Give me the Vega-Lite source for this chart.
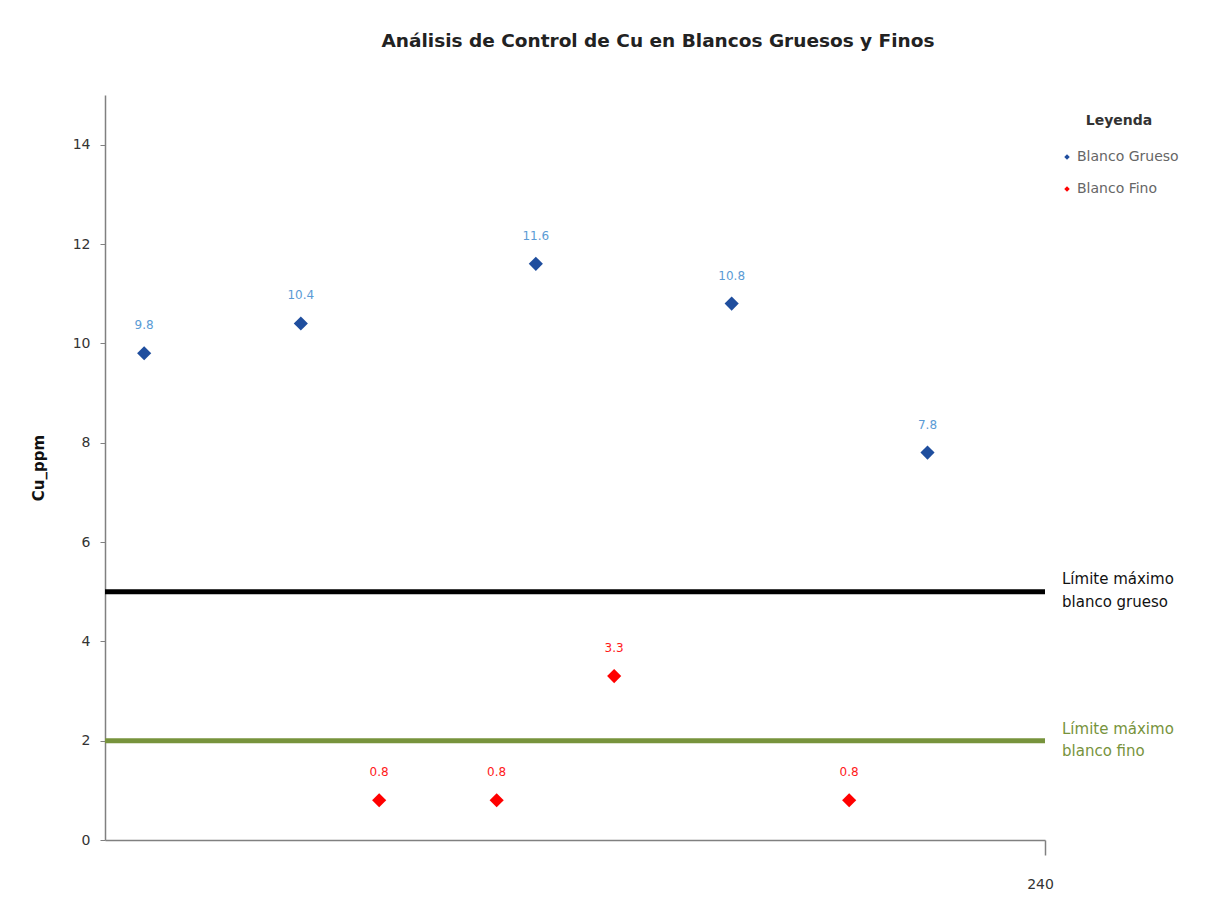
{
  "$schema": "https://vega.github.io/schema/vega-lite/v6.json",
  "width": 940,
  "height": 745,
  "autosize": {"type": "none"},
  "padding": {"left": 105, "top": 95, "right": 160, "bottom": 61},
  "background": "white",
  "config": {"view": {"stroke": null}, "font": "DejaVu Sans"},
  "title": {
    "text": "Análisis de Control de Cu en Blancos Gruesos y Finos",
    "fontSize": 18.5,
    "fontWeight": "bold",
    "color": "#222222",
    "anchor": "middle",
    "dx": 83,
    "offset": 30,
    "baseline": "alphabetic"
  },
  "datasets": {
    "puntos": [
      {"muestra": 10, "cu": 9.8, "tipo": "Blanco Grueso"},
      {"muestra": 50, "cu": 10.4, "tipo": "Blanco Grueso"},
      {"muestra": 110, "cu": 11.6, "tipo": "Blanco Grueso"},
      {"muestra": 160, "cu": 10.8, "tipo": "Blanco Grueso"},
      {"muestra": 210, "cu": 7.8, "tipo": "Blanco Grueso"},
      {"muestra": 70, "cu": 0.8, "tipo": "Blanco Fino"},
      {"muestra": 100, "cu": 0.8, "tipo": "Blanco Fino"},
      {"muestra": 130, "cu": 3.3, "tipo": "Blanco Fino"},
      {"muestra": 190, "cu": 0.8, "tipo": "Blanco Fino"}
    ],
    "limites": [
      {"limite": "grueso", "valor": 5, "etiqueta": "Límite máximo\nblanco grueso"},
      {"limite": "fino", "valor": 2, "etiqueta": "Límite máximo\nblanco fino"}
    ]
  },
  "layer": [
    {
      "data": {"name": "limites"},
      "transform": [{"filter": "datum.limite == 'grueso'"}],
      "mark": {"type": "rule", "color": "#000000", "strokeWidth": 5},
      "encoding": {"y": {"field": "valor", "type": "quantitative"}}
    },
    {
      "data": {"name": "limites"},
      "transform": [{"filter": "datum.limite == 'fino'"}],
      "mark": {"type": "rule", "color": "#77933C", "strokeWidth": 5},
      "encoding": {"y": {"field": "valor", "type": "quantitative"}}
    },
    {
      "data": {"name": "limites"},
      "transform": [{"filter": "datum.limite == 'grueso'"}],
      "mark": {"type": "text", "align": "left", "baseline": "middle", "dx": 17, "dy": -13, "fontSize": 15, "color": "#111111", "lineBreak": "\n", "lineHeight": 23},
      "encoding": {
        "x": {"datum": 240, "type": "quantitative"},
        "y": {"field": "valor", "type": "quantitative"},
        "text": {"field": "etiqueta"}
      }
    },
    {
      "data": {"name": "limites"},
      "transform": [{"filter": "datum.limite == 'fino'"}],
      "mark": {"type": "text", "align": "left", "baseline": "middle", "dx": 17, "dy": -12, "fontSize": 15, "color": "#77933C", "lineBreak": "\n", "lineHeight": 22},
      "encoding": {
        "x": {"datum": 240, "type": "quantitative"},
        "y": {"field": "valor", "type": "quantitative"},
        "text": {"field": "etiqueta"}
      }
    },
    {
      "data": {"name": "puntos"},
      "mark": {"type": "point", "shape": "diamond", "filled": true, "size": 200, "opacity": 1},
      "encoding": {
        "x": {
          "field": "muestra",
          "type": "quantitative",
          "scale": {"domain": [0, 240], "nice": false, "zero": true},
          "axis": {
            "title": null,
            "values": [240],
            "grid": false,
            "tickSize": 15,
            "domainColor": "#808080",
            "tickColor": "#808080",
            "domainWidth": 1.5,
            "tickWidth": 1.5,
            "labelFontSize": 14,
            "labelColor": "#333333",
            "labelPadding": 22,
            "labelFlush": false,
            "labelAlign": "center",
            "labelOffset": -5
          }
        },
        "y": {
          "field": "cu",
          "type": "quantitative",
          "scale": {"domain": [0, 15], "nice": false},
          "axis": {
            "title": "Cu_ppm",
            "titleFontSize": 15,
            "titleFontWeight": "bold",
            "titleColor": "#111111",
            "titlePadding": 26,
            "values": [0, 2, 4, 6, 8, 10, 12, 14],
            "grid": false,
            "tickSize": 5,
            "domainColor": "#808080",
            "tickColor": "#808080",
            "domainWidth": 1.5,
            "labelFontSize": 14,
            "labelColor": "#333333",
            "labelPadding": 10
          }
        },
        "color": {
          "field": "tipo",
          "type": "nominal",
          "scale": {"domain": ["Blanco Grueso", "Blanco Fino"], "range": ["#1F4E9E", "#FF0000"]},
          "legend": {
            "orient": "none",
            "legendX": 955,
            "legendY": 19,
            "title": "Leyenda",
            "titleFontSize": 14,
            "titleFontWeight": "bold",
            "titleColor": "#333333",
            "titleAnchor": "middle",
            "titlePadding": 22,
            "labelFontSize": 14,
            "labelColor": "#666666",
            "labelOffset": 3,
            "symbolType": "diamond",
            "symbolSize": 30,
            "rowPadding": 18
          }
        }
      }
    },
    {
      "data": {"name": "puntos"},
      "transform": [{"filter": "datum.tipo == 'Blanco Grueso'"}],
      "mark": {"type": "text", "dy": -28, "fontSize": 12, "color": "#5B9BD5"},
      "encoding": {
        "x": {"field": "muestra", "type": "quantitative"},
        "y": {"field": "cu", "type": "quantitative"},
        "text": {"field": "cu", "type": "quantitative", "format": ".1f"}
      }
    },
    {
      "data": {"name": "puntos"},
      "transform": [{"filter": "datum.tipo == 'Blanco Fino'"}],
      "mark": {"type": "text", "dy": -28, "fontSize": 12, "color": "#FF1A1A"},
      "encoding": {
        "x": {"field": "muestra", "type": "quantitative"},
        "y": {"field": "cu", "type": "quantitative"},
        "text": {"field": "cu", "type": "quantitative", "format": ".1f"}
      }
    }
  ]
}
